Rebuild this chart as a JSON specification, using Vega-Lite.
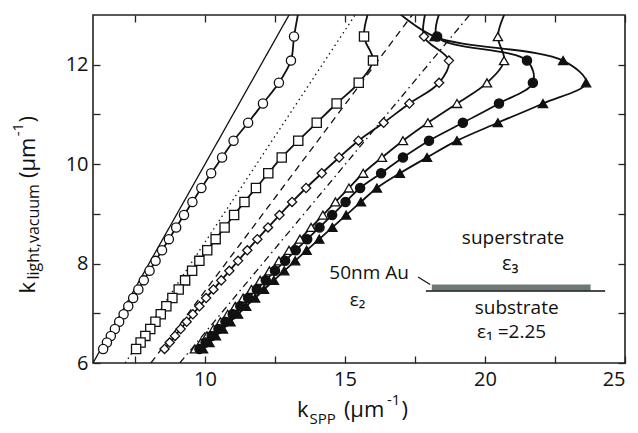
{
  "$schema": "https://vega.github.io/schema/vega-lite/v6.json",
  "width": 532,
  "height": 348,
  "autosize": {"type": "none"},
  "padding": {"left": 93, "top": 15, "right": 13, "bottom": 70},
  "background": "white",
  "config": {
    "view": {"stroke": "#222", "strokeWidth": 1.6},
    "axis": {"grid": false, "domain": false, "tickColor": "#222", "tickSize": -7, "tickWidth": 1.3,
      "labelFont": "Open Sans", "labelFontSize": 20, "labelColor": "#111",
      "titleFont": "Open Sans", "titleFontSize": 21, "titleColor": "#111", "titleFontWeight": "normal"}
  },
  "resolve": {"axis": {"x": "independent", "y": "independent"}},
  "datasets": {
    "light": [
      {"s": "n1", "x": 6, "y": 6}, {"s": "n1", "x": 13.2, "y": 13.2},
      {"s": "n2", "x": 7.15, "y": 6}, {"s": "n2", "x": 15.36, "y": 13},
      {"s": "n3", "x": 8.07, "y": 6}, {"s": "n3", "x": 17.4, "y": 13},
      {"s": "n4", "x": 9.1, "y": 6}, {"s": "n4", "x": 19.45, "y": 13}
    ],
    "curves": [
      {"s": "A", "l": 480, "m": 0, "y": 13.1, "x": 13.35},
      {"s": "A", "l": 500, "m": 1, "y": 12.566, "x": 13.18},
      {"s": "A", "l": 520, "m": 1, "y": 12.083, "x": 13.07},
      {"s": "A", "l": 540, "m": 1, "y": 11.636, "x": 12.64},
      {"s": "A", "l": 560, "m": 1, "y": 11.22, "x": 12.07},
      {"s": "A", "l": 580, "m": 1, "y": 10.833, "x": 11.54},
      {"s": "A", "l": 600, "m": 1, "y": 10.472, "x": 11.02},
      {"s": "A", "l": 620, "m": 1, "y": 10.134, "x": 10.61},
      {"s": "A", "l": 640, "m": 1, "y": 9.817, "x": 10.22},
      {"s": "A", "l": 660, "m": 1, "y": 9.52, "x": 9.87},
      {"s": "A", "l": 680, "m": 1, "y": 9.24, "x": 9.55},
      {"s": "A", "l": 700, "m": 1, "y": 8.976, "x": 9.25},
      {"s": "A", "l": 720, "m": 1, "y": 8.727, "x": 8.97},
      {"s": "A", "l": 740, "m": 1, "y": 8.491, "x": 8.71},
      {"s": "A", "l": 760, "m": 1, "y": 8.267, "x": 8.465},
      {"s": "A", "l": 780, "m": 1, "y": 8.055, "x": 8.235},
      {"s": "A", "l": 800, "m": 1, "y": 7.854, "x": 8.02},
      {"s": "A", "l": 820, "m": 1, "y": 7.662, "x": 7.815},
      {"s": "A", "l": 840, "m": 1, "y": 7.48, "x": 7.62},
      {"s": "A", "l": 860, "m": 1, "y": 7.306, "x": 7.435},
      {"s": "A", "l": 880, "m": 1, "y": 7.14, "x": 7.26},
      {"s": "A", "l": 900, "m": 1, "y": 6.981, "x": 7.093},
      {"s": "A", "l": 920, "m": 1, "y": 6.83, "x": 6.935},
      {"s": "A", "l": 940, "m": 1, "y": 6.684, "x": 6.782},
      {"s": "A", "l": 960, "m": 1, "y": 6.545, "x": 6.636},
      {"s": "A", "l": 980, "m": 1, "y": 6.411, "x": 6.497},
      {"s": "A", "l": 1000, "m": 1, "y": 6.283, "x": 6.362},

      {"s": "B", "l": 480, "m": 0, "y": 13.1, "x": 15.86},
      {"s": "B", "l": 500, "m": 1, "y": 12.566, "x": 15.68},
      {"s": "B", "l": 520, "m": 1, "y": 12.083, "x": 16.0},
      {"s": "B", "l": 540, "m": 1, "y": 11.636, "x": 15.49},
      {"s": "B", "l": 560, "m": 1, "y": 11.22, "x": 14.7},
      {"s": "B", "l": 580, "m": 1, "y": 10.833, "x": 13.99},
      {"s": "B", "l": 600, "m": 1, "y": 10.472, "x": 13.33},
      {"s": "B", "l": 620, "m": 1, "y": 10.134, "x": 12.74},
      {"s": "B", "l": 640, "m": 1, "y": 9.817, "x": 12.26},
      {"s": "B", "l": 660, "m": 1, "y": 9.52, "x": 11.82},
      {"s": "B", "l": 680, "m": 1, "y": 9.24, "x": 11.41},
      {"s": "B", "l": 700, "m": 1, "y": 8.976, "x": 11.04},
      {"s": "B", "l": 720, "m": 1, "y": 8.727, "x": 10.7},
      {"s": "B", "l": 740, "m": 1, "y": 8.491, "x": 10.38},
      {"s": "B", "l": 760, "m": 1, "y": 8.267, "x": 10.08},
      {"s": "B", "l": 780, "m": 1, "y": 8.055, "x": 9.8},
      {"s": "B", "l": 800, "m": 1, "y": 7.854, "x": 9.54},
      {"s": "B", "l": 820, "m": 1, "y": 7.662, "x": 9.29},
      {"s": "B", "l": 840, "m": 1, "y": 7.48, "x": 9.06},
      {"s": "B", "l": 860, "m": 1, "y": 7.306, "x": 8.835},
      {"s": "B", "l": 880, "m": 1, "y": 7.14, "x": 8.62},
      {"s": "B", "l": 900, "m": 1, "y": 6.981, "x": 8.42},
      {"s": "B", "l": 920, "m": 1, "y": 6.83, "x": 8.23},
      {"s": "B", "l": 940, "m": 1, "y": 6.684, "x": 8.045},
      {"s": "B", "l": 960, "m": 1, "y": 6.545, "x": 7.87},
      {"s": "B", "l": 980, "m": 1, "y": 6.411, "x": 7.7},
      {"s": "B", "l": 1000, "m": 1, "y": 6.283, "x": 7.54},

      {"s": "C", "l": 480, "m": 0, "y": 13.1, "x": 17.9},
      {"s": "C", "l": 500, "m": 1, "y": 12.566, "x": 17.82},
      {"s": "C", "l": 520, "m": 1, "y": 12.083, "x": 18.71},
      {"s": "C", "l": 540, "m": 1, "y": 11.636, "x": 18.36},
      {"s": "C", "l": 560, "m": 1, "y": 11.22, "x": 17.3},
      {"s": "C", "l": 580, "m": 1, "y": 10.833, "x": 16.38},
      {"s": "C", "l": 600, "m": 1, "y": 10.472, "x": 15.48},
      {"s": "C", "l": 620, "m": 1, "y": 10.134, "x": 14.79},
      {"s": "C", "l": 640, "m": 1, "y": 9.817, "x": 14.17},
      {"s": "C", "l": 660, "m": 1, "y": 9.52, "x": 13.61},
      {"s": "C", "l": 680, "m": 1, "y": 9.24, "x": 13.11},
      {"s": "C", "l": 700, "m": 1, "y": 8.976, "x": 12.66},
      {"s": "C", "l": 720, "m": 1, "y": 8.727, "x": 12.25},
      {"s": "C", "l": 740, "m": 1, "y": 8.491, "x": 11.87},
      {"s": "C", "l": 760, "m": 1, "y": 8.267, "x": 11.51},
      {"s": "C", "l": 780, "m": 1, "y": 8.055, "x": 11.18},
      {"s": "C", "l": 800, "m": 1, "y": 7.854, "x": 10.87},
      {"s": "C", "l": 820, "m": 1, "y": 7.662, "x": 10.58},
      {"s": "C", "l": 840, "m": 1, "y": 7.48, "x": 10.3},
      {"s": "C", "l": 860, "m": 1, "y": 7.306, "x": 10.04},
      {"s": "C", "l": 880, "m": 1, "y": 7.14, "x": 9.8},
      {"s": "C", "l": 900, "m": 1, "y": 6.981, "x": 9.565},
      {"s": "C", "l": 920, "m": 1, "y": 6.83, "x": 9.345},
      {"s": "C", "l": 940, "m": 1, "y": 6.684, "x": 9.13},
      {"s": "C", "l": 960, "m": 1, "y": 6.545, "x": 8.93},
      {"s": "C", "l": 980, "m": 1, "y": 6.411, "x": 8.74},
      {"s": "C", "l": 1000, "m": 1, "y": 6.283, "x": 8.555},

      {"s": "D", "l": 480, "m": 0, "y": 13.1, "x": 20.76},
      {"s": "D", "l": 500, "m": 1, "y": 12.566, "x": 20.46},
      {"s": "D", "l": 520, "m": 1, "y": 12.083, "x": 20.68},
      {"s": "D", "l": 540, "m": 1, "y": 11.636, "x": 20.07},
      {"s": "D", "l": 560, "m": 1, "y": 11.22, "x": 19.0},
      {"s": "D", "l": 580, "m": 1, "y": 10.833, "x": 17.96},
      {"s": "D", "l": 600, "m": 1, "y": 10.472, "x": 17.07},
      {"s": "D", "l": 620, "m": 1, "y": 10.134, "x": 16.32},
      {"s": "D", "l": 640, "m": 1, "y": 9.817, "x": 15.65},
      {"s": "D", "l": 660, "m": 1, "y": 9.52, "x": 15.14},
      {"s": "D", "l": 680, "m": 1, "y": 9.24, "x": 14.66},
      {"s": "D", "l": 700, "m": 1, "y": 8.976, "x": 14.21},
      {"s": "D", "l": 720, "m": 1, "y": 8.727, "x": 13.79},
      {"s": "D", "l": 740, "m": 1, "y": 8.491, "x": 13.39},
      {"s": "D", "l": 760, "m": 1, "y": 8.267, "x": 13.0},
      {"s": "D", "l": 780, "m": 1, "y": 8.055, "x": 12.64},
      {"s": "D", "l": 800, "m": 1, "y": 7.854, "x": 12.3},
      {"s": "D", "l": 820, "m": 1, "y": 7.662, "x": 11.97},
      {"s": "D", "l": 840, "m": 1, "y": 7.48, "x": 11.66},
      {"s": "D", "l": 860, "m": 1, "y": 7.306, "x": 11.36},
      {"s": "D", "l": 880, "m": 1, "y": 7.14, "x": 11.08},
      {"s": "D", "l": 900, "m": 1, "y": 6.981, "x": 10.81},
      {"s": "D", "l": 920, "m": 1, "y": 6.83, "x": 10.55},
      {"s": "D", "l": 940, "m": 1, "y": 6.684, "x": 10.3},
      {"s": "D", "l": 960, "m": 1, "y": 6.545, "x": 10.07},
      {"s": "D", "l": 980, "m": 1, "y": 6.411, "x": 9.85},
      {"s": "D", "l": 1000, "m": 1, "y": 6.283, "x": 9.64},

      {"s": "E", "l": 480, "m": 0, "y": 13.1, "x": 18.42},
      {"s": "E", "l": 500, "m": 1, "y": 12.566, "x": 18.29},
      {"s": "E", "l": 520, "m": 1, "y": 12.083, "x": 21.5},
      {"s": "E", "l": 540, "m": 1, "y": 11.636, "x": 21.71},
      {"s": "E", "l": 560, "m": 1, "y": 11.22, "x": 20.5},
      {"s": "E", "l": 580, "m": 1, "y": 10.833, "x": 19.21},
      {"s": "E", "l": 600, "m": 1, "y": 10.472, "x": 18.0},
      {"s": "E", "l": 620, "m": 1, "y": 10.134, "x": 17.07},
      {"s": "E", "l": 640, "m": 1, "y": 9.817, "x": 16.29},
      {"s": "E", "l": 660, "m": 1, "y": 9.52, "x": 15.54},
      {"s": "E", "l": 680, "m": 1, "y": 9.24, "x": 15.02},
      {"s": "E", "l": 700, "m": 1, "y": 8.976, "x": 14.54},
      {"s": "E", "l": 720, "m": 1, "y": 8.727, "x": 14.09},
      {"s": "E", "l": 740, "m": 1, "y": 8.491, "x": 13.65},
      {"s": "E", "l": 760, "m": 1, "y": 8.267, "x": 13.24},
      {"s": "E", "l": 780, "m": 1, "y": 8.055, "x": 12.86},
      {"s": "E", "l": 800, "m": 1, "y": 7.854, "x": 12.5},
      {"s": "E", "l": 820, "m": 1, "y": 7.662, "x": 12.17},
      {"s": "E", "l": 840, "m": 1, "y": 7.48, "x": 11.85},
      {"s": "E", "l": 860, "m": 1, "y": 7.306, "x": 11.54},
      {"s": "E", "l": 880, "m": 1, "y": 7.14, "x": 11.26},
      {"s": "E", "l": 900, "m": 1, "y": 6.981, "x": 10.99},
      {"s": "E", "l": 920, "m": 1, "y": 6.83, "x": 10.73},
      {"s": "E", "l": 940, "m": 1, "y": 6.684, "x": 10.48},
      {"s": "E", "l": 960, "m": 1, "y": 6.545, "x": 10.24},
      {"s": "E", "l": 980, "m": 1, "y": 6.411, "x": 10.02},
      {"s": "E", "l": 1000, "m": 1, "y": 6.283, "x": 9.8},

      {"s": "F", "l": 480, "m": 0, "y": 13.1, "x": 16.8},
      {"s": "F", "l": 500, "m": 1, "y": 12.566, "x": 18.2},
      {"s": "F", "l": 520, "m": 1, "y": 12.083, "x": 22.79},
      {"s": "F", "l": 540, "m": 1, "y": 11.636, "x": 23.61},
      {"s": "F", "l": 560, "m": 1, "y": 11.22, "x": 22.07},
      {"s": "F", "l": 580, "m": 1, "y": 10.833, "x": 20.46},
      {"s": "F", "l": 600, "m": 1, "y": 10.472, "x": 19.0},
      {"s": "F", "l": 620, "m": 1, "y": 10.134, "x": 17.93},
      {"s": "F", "l": 640, "m": 1, "y": 9.817, "x": 16.96},
      {"s": "F", "l": 660, "m": 1, "y": 9.52, "x": 16.14},
      {"s": "F", "l": 680, "m": 1, "y": 9.24, "x": 15.57},
      {"s": "F", "l": 700, "m": 1, "y": 8.976, "x": 15.04},
      {"s": "F", "l": 720, "m": 1, "y": 8.727, "x": 14.55},
      {"s": "F", "l": 740, "m": 1, "y": 8.491, "x": 14.08},
      {"s": "F", "l": 760, "m": 1, "y": 8.267, "x": 13.63},
      {"s": "F", "l": 780, "m": 1, "y": 8.055, "x": 13.22},
      {"s": "F", "l": 800, "m": 1, "y": 7.854, "x": 12.83},
      {"s": "F", "l": 820, "m": 1, "y": 7.662, "x": 12.46},
      {"s": "F", "l": 840, "m": 1, "y": 7.48, "x": 12.11},
      {"s": "F", "l": 860, "m": 1, "y": 7.306, "x": 11.79},
      {"s": "F", "l": 880, "m": 1, "y": 7.14, "x": 11.47},
      {"s": "F", "l": 900, "m": 1, "y": 6.981, "x": 11.18},
      {"s": "F", "l": 920, "m": 1, "y": 6.83, "x": 10.91},
      {"s": "F", "l": 940, "m": 1, "y": 6.684, "x": 10.64},
      {"s": "F", "l": 960, "m": 1, "y": 6.545, "x": 10.39},
      {"s": "F", "l": 980, "m": 1, "y": 6.411, "x": 10.16},
      {"s": "F", "l": 1000, "m": 1, "y": 6.283, "x": 9.93}
    ]
  },
  "layer": [
    {
      "data": {"name": "light"},
      "mark": {"type": "line", "color": "#111", "strokeWidth": 1.3, "clip": true},
      "encoding": {
        "x": {"field": "x", "type": "quantitative", "scale": {"domain": [6, 25], "nice": false, "zero": false},
          "axis": {"orient": "bottom", "values": [7.5, 10, 12.5, 15, 17.5, 20, 22.5, 25],
            "labelExpr": "datum.value % 5 == 0 ? datum.label : ''", "labelPadding": 13, "title": null}},
        "y": {"field": "y", "type": "quantitative", "scale": {"domain": [6, 13], "nice": false, "zero": false},
          "axis": {"orient": "left", "values": [6, 7, 8, 9, 10, 11, 12],
            "labelExpr": "datum.value % 2 == 0 ? datum.label : ''", "labelPadding": 12, "title": null}},
        "detail": {"field": "s", "type": "nominal"},
        "strokeDash": {"field": "s", "type": "nominal",
          "scale": {"domain": ["n1", "n2", "n3", "n4"], "range": [[1, 0], [1.5, 3.5], [7, 5], [7, 4, 1.5, 4]]},
          "legend": null}
      }
    },
    {
      "data": {"name": "curves"},
      "mark": {"type": "line", "color": "#111", "strokeWidth": 1.8, "interpolate": "catmull-rom", "clip": true},
      "encoding": {
        "x": {"field": "x", "type": "quantitative", "axis": null},
        "y": {"field": "y", "type": "quantitative", "axis": null},
        "detail": {"field": "s", "type": "nominal"},
        "order": {"field": "l", "type": "quantitative"}
      }
    },
    {
      "data": {"name": "curves"},
      "transform": [{"filter": "datum.m == 1"}],
      "mark": {"type": "point", "filled": true, "stroke": "#111", "strokeWidth": 1.3, "opacity": 1, "clip": true},
      "encoding": {
        "x": {"field": "x", "type": "quantitative", "axis": null},
        "y": {"field": "y", "type": "quantitative", "axis": null},
        "shape": {"field": "s", "type": "nominal",
          "scale": {"domain": ["A", "B", "C", "D", "E", "F"], "range": ["circle", "square", "diamond", "triangle-up", "circle", "triangle-up"]},
          "legend": null},
        "fill": {"field": "s", "type": "nominal",
          "scale": {"domain": ["A", "B", "C", "D", "E", "F"], "range": ["white", "white", "white", "white", "#111", "#111"]},
          "legend": null},
        "size": {"field": "s", "type": "nominal",
          "scale": {"domain": ["A", "B", "C", "D", "E", "F"], "range": [85, 85, 110, 135, 85, 135]},
          "legend": null}
      }
    },
    {
      "data": {"values": [{}]},
      "mark": {"type": "rect", "fill": "#6e7876"},
      "encoding": {"x": {"datum": 18.1, "type": "quantitative", "axis": null}, "x2": {"datum": 23.77},
        "y": {"datum": 7.46, "type": "quantitative", "axis": null}, "y2": {"datum": 7.58}}
    },
    {
      "data": {"values": [{}]},
      "mark": {"type": "rule", "color": "#111", "strokeWidth": 1.5},
      "encoding": {"x": {"datum": 17.89, "type": "quantitative", "axis": null}, "x2": {"datum": 24.29},
        "y": {"datum": 7.45, "type": "quantitative", "axis": null}}
    },
    {
      "data": {"values": [{}]},
      "mark": {"type": "rule", "color": "#111", "strokeWidth": 1.2},
      "encoding": {"x": {"datum": 17.61, "type": "quantitative", "axis": null}, "x2": {"datum": 18.04},
        "y": {"datum": 7.73, "type": "quantitative", "axis": null}, "y2": {"datum": 7.58}}
    },
    {
      "data": {"values": [{}]},
      "mark": {"type": "text", "text": "superstrate", "font": "Open Sans", "fontSize": 19, "color": "#111", "align": "center", "baseline": "middle"},
      "encoding": {"x": {"datum": 21.0, "type": "quantitative", "axis": null}, "y": {"datum": 8.52, "type": "quantitative", "axis": null}}
    },
    {
      "data": {"values": [{}]},
      "mark": {"type": "text", "text": "ε₃", "font": "Open Sans", "fontSize": 20, "color": "#111", "align": "center", "baseline": "middle"},
      "encoding": {"x": {"datum": 20.9, "type": "quantitative", "axis": null}, "y": {"datum": 8.0, "type": "quantitative", "axis": null}}
    },
    {
      "data": {"values": [{}]},
      "mark": {"type": "text", "text": "substrate", "font": "Open Sans", "fontSize": 19, "color": "#111", "align": "center", "baseline": "middle"},
      "encoding": {"x": {"datum": 21.13, "type": "quantitative", "axis": null}, "y": {"datum": 7.11, "type": "quantitative", "axis": null}}
    },
    {
      "data": {"values": [{}]},
      "mark": {"type": "text", "text": "ε₁ =2.25", "font": "Open Sans", "fontSize": 19, "color": "#111", "align": "center", "baseline": "middle"},
      "encoding": {"x": {"datum": 20.95, "type": "quantitative", "axis": null}, "y": {"datum": 6.62, "type": "quantitative", "axis": null}}
    },
    {
      "data": {"values": [{}]},
      "mark": {"type": "text", "text": "50nm Au", "font": "Open Sans", "fontSize": 19, "color": "#111", "align": "center", "baseline": "middle"},
      "encoding": {"x": {"datum": 15.86, "type": "quantitative", "axis": null}, "y": {"datum": 7.81, "type": "quantitative", "axis": null}}
    },
    {
      "data": {"values": [{}]},
      "mark": {"type": "text", "text": "ε₂", "font": "Open Sans", "fontSize": 19, "color": "#111", "align": "center", "baseline": "middle"},
      "encoding": {"x": {"datum": 15.45, "type": "quantitative", "axis": null}, "y": {"datum": 7.27, "type": "quantitative", "axis": null}}
    },
    {
      "data": {"values": [{}]},
      "mark": {"type": "text", "text": "k", "font": "Open Sans", "fontSize": 22, "color": "#111", "align": "left", "baseline": "alphabetic"},
      "encoding": {"x": {"datum": 13.29, "type": "quantitative", "axis": null}, "y": {"datum": 4.92, "type": "quantitative", "axis": null}}
    },
    {
      "data": {"values": [{}]},
      "mark": {"type": "text", "text": "SPP", "font": "Open Sans", "fontSize": 15, "color": "#111", "align": "left", "baseline": "alphabetic"},
      "encoding": {"x": {"datum": 13.73, "type": "quantitative", "axis": null}, "y": {"datum": 4.78, "type": "quantitative", "axis": null}}
    },
    {
      "data": {"values": [{}]},
      "mark": {"type": "text", "text": "(μm", "font": "Open Sans", "fontSize": 22, "color": "#111", "align": "left", "baseline": "alphabetic"},
      "encoding": {"x": {"datum": 14.96, "type": "quantitative", "axis": null}, "y": {"datum": 4.92, "type": "quantitative", "axis": null}}
    },
    {
      "data": {"values": [{}]},
      "mark": {"type": "text", "text": "-1", "font": "Open Sans", "fontSize": 15, "color": "#111", "align": "left", "baseline": "alphabetic"},
      "encoding": {"x": {"datum": 16.5, "type": "quantitative", "axis": null}, "y": {"datum": 5.16, "type": "quantitative", "axis": null}}
    },
    {
      "data": {"values": [{}]},
      "mark": {"type": "text", "text": ")", "font": "Open Sans", "fontSize": 22, "color": "#111", "align": "left", "baseline": "alphabetic"},
      "encoding": {"x": {"datum": 17.02, "type": "quantitative", "axis": null}, "y": {"datum": 4.92, "type": "quantitative", "axis": null}}
    },
    {
      "data": {"values": [{}]},
      "mark": {"type": "text", "text": "k", "font": "Open Sans", "fontSize": 22, "color": "#111", "align": "left", "baseline": "alphabetic", "angle": 270},
      "encoding": {"x": {"datum": 3.93, "type": "quantitative", "axis": null}, "y": {"datum": 7.4, "type": "quantitative", "axis": null}}
    },
    {
      "data": {"values": [{}]},
      "mark": {"type": "text", "text": "light,vacuum", "font": "Open Sans", "fontSize": 16, "color": "#111", "align": "left", "baseline": "alphabetic", "angle": 270},
      "encoding": {"x": {"datum": 4.08, "type": "quantitative", "axis": null}, "y": {"datum": 7.68, "type": "quantitative", "axis": null}}
    },
    {
      "data": {"values": [{}]},
      "mark": {"type": "text", "text": "(μm", "font": "Open Sans", "fontSize": 22, "color": "#111", "align": "left", "baseline": "alphabetic", "angle": 270},
      "encoding": {"x": {"datum": 3.93, "type": "quantitative", "axis": null}, "y": {"datum": 9.72, "type": "quantitative", "axis": null}}
    },
    {
      "data": {"values": [{}]},
      "mark": {"type": "text", "text": "-1", "font": "Open Sans", "fontSize": 15, "color": "#111", "align": "left", "baseline": "alphabetic", "angle": 270},
      "encoding": {"x": {"datum": 3.5, "type": "quantitative", "axis": null}, "y": {"datum": 10.56, "type": "quantitative", "axis": null}}
    },
    {
      "data": {"values": [{}]},
      "mark": {"type": "text", "text": ")", "font": "Open Sans", "fontSize": 22, "color": "#111", "align": "left", "baseline": "alphabetic", "angle": 270},
      "encoding": {"x": {"datum": 3.93, "type": "quantitative", "axis": null}, "y": {"datum": 10.84, "type": "quantitative", "axis": null}}
    },
    {
      "data": {"name": "light"},
      "mark": {"type": "line", "opacity": 0},
      "encoding": {
        "x": {"field": "x", "type": "quantitative",
          "axis": {"orient": "top", "values": [7.5, 10, 12.5, 15, 17.5, 20, 22.5, 25], "labels": false, "title": null}},
        "y": {"field": "y", "type": "quantitative",
          "axis": {"orient": "right", "values": [6, 7, 8, 9, 10, 11, 12], "labels": false, "title": null}},
        "detail": {"field": "s", "type": "nominal"}
      }
    }
  ]
}
